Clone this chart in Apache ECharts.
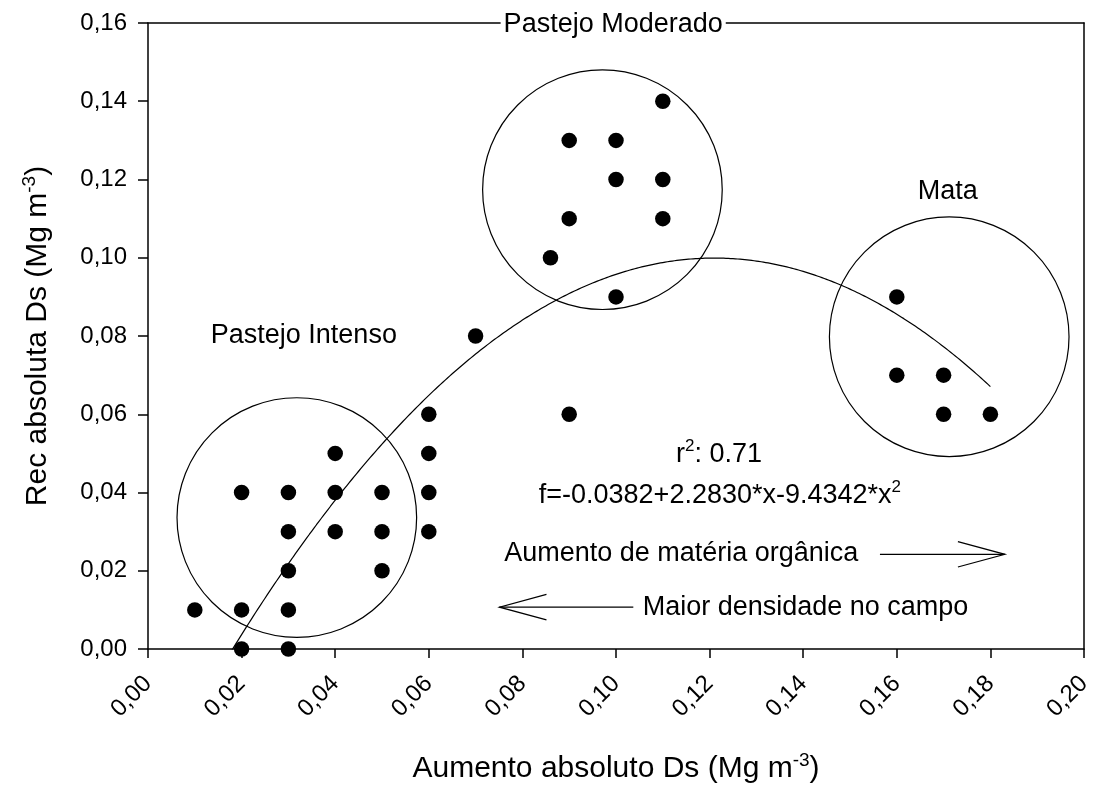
<!DOCTYPE html>
<html>
<head>
<meta charset="utf-8">
<script src="https://cdn.jsdelivr.net/npm/echarts@6/dist/echarts.min.js"></script>
<style>
  html, body { margin: 0; padding: 0; background: #fff; }
  #chart { width: 1098px; height: 789px; }
</style>
</head>
<body>
<div id="chart"></div>
<script>
// Absolute increase in soil density (x) and absolute recovery (y), Mg m-3
const xValues = [
  0.01,
  0.02, 0.02, 0.02,
  0.03, 0.03, 0.03, 0.03, 0.03,
  0.04, 0.04, 0.04,
  0.05, 0.05, 0.05,
  0.06, 0.06, 0.06, 0.06,
  0.07,
  0.09,
  0.086,
  0.09, 0.09,
  0.10, 0.10, 0.10,
  0.11, 0.11, 0.11,
  0.16, 0.16,
  0.17, 0.17,
  0.18
];
const yValues = [
  0.01,
  0.00, 0.01, 0.04,
  0.00, 0.01, 0.02, 0.03, 0.04,
  0.03, 0.04, 0.05,
  0.02, 0.03, 0.04,
  0.03, 0.04, 0.05, 0.06,
  0.08,
  0.06,
  0.10,
  0.11, 0.13,
  0.09, 0.12, 0.13,
  0.11, 0.12, 0.14,
  0.07, 0.09,
  0.06, 0.07,
  0.06
];

// Quadratic fit f = b0 + b1*x + b2*x^2 and the x span it is drawn over
const fitCoef = [-0.0382, 2.2830, -9.4342];
const fitXRange = [0.01, 0.18];
const fitR2 = 0.71;

// Management groups, outlined by circles (centre x, centre y, radius in x units)
const groupNames = ['Pastejo Intenso', 'Pastejo Moderado', 'Mata'];
const groupCenterX = [0.0318, 0.0971, 0.1712];
const groupCenterY = [0.0336, 0.1174, 0.0798];
const groupRadiusX = [0.0256, 0.0256, 0.0256];

// Axis ticks
const xTicks = [0, 0.02, 0.04, 0.06, 0.08, 0.10, 0.12, 0.14, 0.16, 0.18, 0.20];
const yTicks = [0, 0.02, 0.04, 0.06, 0.08, 0.10, 0.12, 0.14, 0.16];

const FONT = "'Liberation Sans', Arial, Helvetica, sans-serif";
const fmt = v => v.toFixed(2).replace('.', ',');

const points = xValues.map((x, i) => [x, yValues[i]]);

const fitLine = [];
for (let k = 0; ; k++) {
  const x = +(fitXRange[0] + k * 0.0005).toFixed(5);
  if (x > fitXRange[1] + 1e-9) break;
  fitLine.push([x, fitCoef[0] + fitCoef[1] * x + fitCoef[2] * x * x]);
}

const fmtCoef = v => Math.abs(v).toFixed(4);
const eqText =
  '{a|f=' + (fitCoef[0] < 0 ? '-' : '') + fmtCoef(fitCoef[0]) +
  (fitCoef[1] < 0 ? '-' : '+') + fmtCoef(fitCoef[1]) + '*x' +
  (fitCoef[2] < 0 ? '-' : '+') + fmtCoef(fitCoef[2]) + '*x}{s|2}';
const r2Text = '{a|r}{s|2}{a|: ' + fitR2.toFixed(2) + '}';

const noteRich = {
  a: { fontSize: 27, fontFamily: FONT, color: '#000', lineHeight: 34 },
  s: { fontSize: 17, fontFamily: FONT, color: '#000', lineHeight: 17, verticalAlign: 'top' }
};

// Text annotations placed in data coordinates
const notes = [
  { text: '{a|' + groupNames[0] + '}', at: [0.0333, 0.0800], align: 'center' },
  { text: '{a|' + groupNames[1] + '}', at: [0.0994, 0.1597], align: 'center', opaque: true },
  { text: '{a|' + groupNames[2] + '}', at: [0.1709, 0.1169], align: 'center' },
  { text: r2Text, at: [0.1220, 0.0496], align: 'center' },
  { text: eqText, at: [0.1222, 0.0392], align: 'center' },
  { text: '{a|Aumento de matéria orgânica}', at: [0.0761, 0.0245], align: 'left' },
  { text: '{a|Maior densidade no campo}', at: [0.1057, 0.0107], align: 'left' }
];

// Direction arrows: [fromX, fromY, toX, toY]
const arrows = [
  [0.1564, 0.0242, 0.1831, 0.0242],
  [0.1037, 0.0107, 0.0751, 0.0107]
];

const axisNameRich = {
  a: { fontSize: 30, fontFamily: FONT, color: '#000', lineHeight: 36 },
  s: { fontSize: 19, fontFamily: FONT, color: '#000', lineHeight: 19, verticalAlign: 'top' }
};

const chart = echarts.init(document.getElementById('chart'), null, { renderer: 'canvas' });

const lineStyleAxis = { color: '#000', width: 1.5 };

chart.setOption({
  animation: false,
  backgroundColor: '#fff',
  grid: { left: 148, right: 14, top: 23, bottom: 138, containLabel: false, show: false },
  xAxis: [
    {
      type: 'value',
      min: xTicks[0], max: xTicks[xTicks.length - 1], interval: 0.02,
      position: 'bottom',
      name: '{a|Aumento absoluto Ds (Mg m}{s|-3}{a|)}',
      nameLocation: 'middle',
      nameGap: 102,
      nameTextStyle: { rich: axisNameRich },
      axisLine: { show: true, onZero: false, lineStyle: lineStyleAxis },
      axisTick: { show: true, inside: false, length: 9, lineStyle: lineStyleAxis },
      axisLabel: {
        rotate: 45, margin: 31, fontSize: 24, fontFamily: FONT, color: '#000',
        showMinLabel: true, showMaxLabel: true, formatter: fmt
      },
      splitLine: { show: false }
    },
    {
      type: 'value', position: 'top',
      min: xTicks[0], max: xTicks[xTicks.length - 1],
      axisLine: { show: true, onZero: false, lineStyle: lineStyleAxis },
      axisTick: { show: false }, axisLabel: { show: false }, splitLine: { show: false }
    }
  ],
  yAxis: [
    {
      type: 'value',
      min: yTicks[0], max: yTicks[yTicks.length - 1], interval: 0.02,
      position: 'left',
      name: '{a|Rec absoluta Ds (Mg m}{s|-3}{a|)}',
      nameLocation: 'middle',
      nameGap: 92,
      nameRotate: 90,
      nameTextStyle: { rich: axisNameRich },
      axisLine: { show: true, onZero: false, lineStyle: lineStyleAxis },
      axisTick: { show: true, inside: false, length: 10, lineStyle: lineStyleAxis },
      axisLabel: {
        margin: 21, fontSize: 24, fontFamily: FONT, color: '#000',
        showMinLabel: true, showMaxLabel: true, formatter: fmt
      },
      splitLine: { show: false }
    },
    {
      type: 'value', position: 'right',
      min: yTicks[0], max: yTicks[yTicks.length - 1],
      axisLine: { show: true, onZero: false, lineStyle: lineStyleAxis },
      axisTick: { show: false }, axisLabel: { show: false }, splitLine: { show: false }
    }
  ],
  series: [
    {
      name: 'groups',
      type: 'custom',
      coordinateSystem: 'cartesian2d',
      silent: true,
      z: 2,
      data: groupNames.map((n, i) => [groupCenterX[i], groupCenterY[i], groupRadiusX[i]]),
      renderItem(params, api) {
        const c = api.coord([api.value(0), api.value(1)]);
        const r = api.size([api.value(2), 0])[0];
        return {
          type: 'circle',
          shape: { cx: c[0], cy: c[1], r: r },
          style: { fill: 'none', stroke: '#000', lineWidth: 1.2 }
        };
      }
    },
    {
      name: 'fit',
      type: 'line',
      data: fitLine,
      showSymbol: false,
      symbol: 'none',
      clip: true,
      silent: true,
      z: 3,
      lineStyle: { color: '#000', width: 1.2 }
    },
    {
      name: 'observed',
      type: 'scatter',
      data: points,
      symbol: 'circle',
      symbolSize: 15.5,
      z: 5,
      itemStyle: { color: '#000', opacity: 1 }
    },
    {
      name: 'notes',
      type: 'custom',
      coordinateSystem: 'cartesian2d',
      silent: true,
      clip: false,
      z: 20,
      zlevel: 1,
      data: notes.map((n, i) => [n.at[0], n.at[1], i]),
      renderItem(params, api) {
        const n = notes[api.value(2)];
        const p = api.coord([api.value(0), api.value(1)]);
        const style = {
          text: n.text,
          rich: noteRich,
          align: n.align,
          verticalAlign: 'middle',
          fill: '#000'
        };
        if (n.opaque) {
          style.backgroundColor = '#fff';
          style.padding = [0, 3];
        }
        return { type: 'text', x: p[0], y: p[1], style: style };
      }
    },
    {
      name: 'arrows',
      type: 'custom',
      coordinateSystem: 'cartesian2d',
      silent: true,
      z: 6,
      data: arrows,
      renderItem(params, api) {
        const a = api.coord([api.value(0), api.value(1)]);
        const b = api.coord([api.value(2), api.value(3)]);
        const dx = b[0] - a[0], dy = b[1] - a[1];
        const len = Math.sqrt(dx * dx + dy * dy);
        const ux = dx / len, uy = dy / len;
        const headLen = 47, headHalf = 12.7;
        const bx = b[0] - ux * headLen, by = b[1] - uy * headLen;
        const stroke = { stroke: '#000', lineWidth: 1.2, fill: 'none' };
        return {
          type: 'group',
          children: [
            { type: 'line', shape: { x1: a[0], y1: a[1], x2: b[0], y2: b[1] }, style: stroke },
            {
              type: 'polyline',
              shape: { points: [[bx - uy * headHalf, by + ux * headHalf], b, [bx + uy * headHalf, by - ux * headHalf]] },
              style: stroke
            }
          ]
        };
      }
    }
  ]
});
</script>
</body>
</html>
